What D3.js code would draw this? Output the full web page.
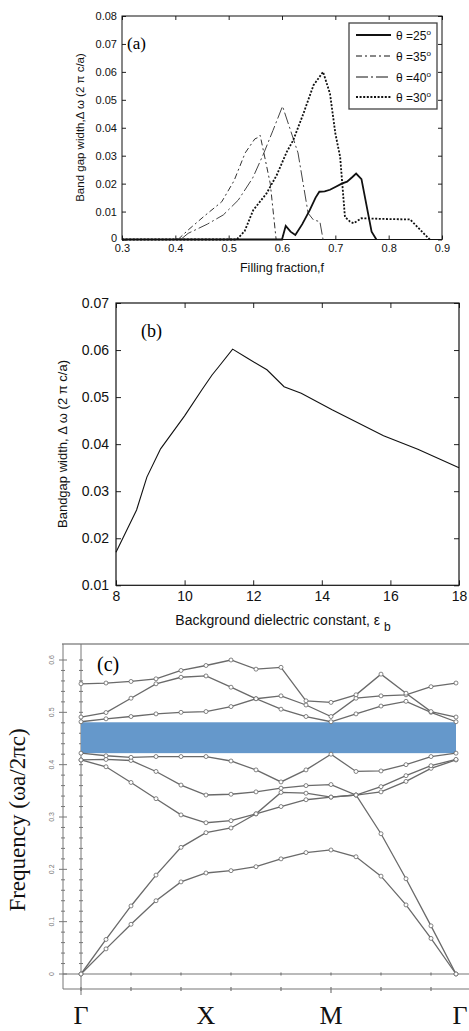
<!DOCTYPE html>
<html>
<head>
<meta charset="utf-8">
<script src="https://cdn.jsdelivr.net/npm/d3@7.9.0/dist/d3.min.js"></script>
<style>
  body { margin: 0; background: #fff; }
  svg { display: block; }
</style>
</head>
<body>
<script>
// ---- panel (a): band gap width vs filling fraction ----
const fTicks = [0.3, 0.4, 0.5, 0.6, 0.7, 0.8, 0.9];
const wTicksA = [0, 0.01, 0.02, 0.03, 0.04, 0.05, 0.06, 0.07, 0.08];
const theta25 = [[0.30,0],[0.600,0],[0.607,0.0049],[0.616,0.0028],[0.625,0.0016],[0.638,0.0055],[0.652,0.0105],[0.663,0.015],[0.670,0.0171],[0.680,0.0172],[0.690,0.0178],[0.700,0.0188],[0.712,0.0200],[0.722,0.0207],[0.731,0.0222],[0.739,0.0236],[0.749,0.0216],[0.768,0.0028],[0.777,0]];
const theta35 = [[0.30,0],[0.405,0],[0.424,0.0034],[0.455,0.0085],[0.487,0.0135],[0.510,0.021],[0.531,0.031],[0.549,0.036],[0.555,0.0365],[0.559,0.0373],[0.566,0.031],[0.578,0.020],[0.589,0]];
const theta40 = [[0.30,0],[0.410,0],[0.424,0.0022],[0.460,0.0055],[0.490,0.0088],[0.518,0.0141],[0.545,0.022],[0.565,0.0305],[0.583,0.039],[0.601,0.0477],[0.630,0.031],[0.649,0.0094],[0.659,0.007],[0.671,0.0064],[0.677,0]];
const theta30 = [[0.30,0],[0.515,0],[0.530,0.003],[0.546,0.0105],[0.571,0.0165],[0.590,0.023],[0.609,0.0314],[0.621,0.0355],[0.640,0.045],[0.659,0.0552],[0.677,0.060],[0.690,0.0522],[0.700,0.038],[0.709,0.0296],[0.718,0.0081],[0.7275,0.0064],[0.734,0.0058],[0.749,0.0076],[0.800,0.0073],[0.840,0.0072],[0.877,0]];
const legendLabels = ["25", "35", "40", "30"];

// ---- panel (b): band gap width vs background dielectric constant ----
const epsTicks = [8, 10, 12, 14, 16, 18];
const wTicksB = [0.01, 0.02, 0.03, 0.04, 0.05, 0.06, 0.07];
const epsB = [8, 8.6, 8.9, 9.3, 10, 10.5, 10.8, 11, 11.4, 11.8, 12.4, 12.9, 13.4, 14.3, 15.8, 16.8, 18];
const gapB = [0.017, 0.026, 0.033, 0.039, 0.046, 0.0515, 0.0547, 0.0565, 0.0602, 0.0584, 0.0558, 0.0522, 0.0508, 0.0473, 0.0418, 0.0389, 0.035];

// ---- panel (c): band structure along Γ-X-M-Γ ----
const kLabels = ["Γ", "X", "M", "Γ"];
const kLabelIndex = [0, 5, 10, 15];
const freqTicks = [0, 0.1, 0.2, 0.3, 0.4, 0.5, 0.6];
const gapLow = 0.422, gapHigh = 0.481;
const band1 = [0, 0.048, 0.095, 0.14, 0.176, 0.193, 0.1975, 0.205, 0.22, 0.232, 0.237, 0.224, 0.187, 0.132, 0.068, 0];
const band2 = [0, 0.066, 0.13, 0.189, 0.242, 0.27, 0.279, 0.306, 0.32, 0.333, 0.338, 0.342, 0.268, 0.182, 0.092, 0];
const band3 = [0.409, 0.396, 0.366, 0.335, 0.304, 0.289, 0.293, 0.306, 0.347, 0.3455, 0.338, 0.342, 0.348, 0.368, 0.393, 0.409];
const band4 = [0.409, 0.41, 0.408, 0.387, 0.361, 0.342, 0.3435, 0.348, 0.355, 0.36, 0.362, 0.342, 0.358, 0.379, 0.398, 0.41];
const band5 = [0.422, 0.417, 0.414, 0.4155, 0.4155, 0.4155, 0.407, 0.39, 0.367, 0.39, 0.42, 0.387, 0.388, 0.40, 0.4155, 0.422];
const band6 = [0.482, 0.4876, 0.492, 0.497, 0.500, 0.5015, 0.511, 0.526, 0.506, 0.492, 0.482, 0.497, 0.512, 0.521, 0.500, 0.482];
const band7 = [0.491, 0.4996, 0.527, 0.5545, 0.567, 0.5695, 0.548, 0.526, 0.5315, 0.514, 0.492, 0.527, 0.5315, 0.5335, 0.549, 0.556];
const band8 = [0.5545, 0.556, 0.559, 0.564, 0.58, 0.5895, 0.6, 0.5825, 0.586, 0.522, 0.519, 0.5335, 0.573, 0.5365, 0.5015, 0.491];
const bands = [band1, band2, band3, band4, band5, band6, band7, band8];

const SANS = "Liberation Sans, Arial, sans-serif";
const SERIF = "Liberation Serif, Times New Roman, serif";

const svg = d3.select("body").append("svg")
    .attr("width", 469)
    .attr("height", 1031);

// =================== panel (a) ===================
const xA = d3.scaleLinear().domain([0.3, 0.9]).range([122, 442]);
const yA = d3.scaleLinear().domain([0, 0.08]).range([239.5, 16]);
const gA = svg.append("g");

function styleAxis(g, size, family) {
    g.attr("font-size", size).attr("font-family", family);
    g.selectAll("text").attr("fill", "#111");
    g.selectAll("line").attr("stroke", "#222");
    g.select(".domain").remove();
}

gA.append("g").attr("transform", "translate(0,239.5)")
    .call(d3.axisBottom(xA).tickValues(fTicks).tickFormat(d3.format(".1f")).tickSizeInner(-4).tickSizeOuter(0).tickPadding(5))
    .call(g => styleAxis(g, 11, SANS));
gA.append("g").attr("transform", "translate(0,16)")
    .call(d3.axisTop(xA).tickValues(fTicks).tickFormat("").tickSizeInner(-4).tickSizeOuter(0))
    .call(g => styleAxis(g, 11, SANS));
gA.append("g").attr("transform", "translate(122,0)")
    .call(d3.axisLeft(yA).tickValues(wTicksA).tickFormat(d => d === 0 ? "0" : d3.format(".2f")(d)).tickSizeInner(-4).tickSizeOuter(0).tickPadding(5))
    .call(g => styleAxis(g, 11, SANS))
    .call(g => g.selectAll(".tick text").filter(d => d === 0).attr("dy", "0.2em"));
gA.append("g").attr("transform", "translate(442,0)")
    .call(d3.axisRight(yA).tickValues(wTicksA).tickFormat("").tickSizeInner(-4).tickSizeOuter(0))
    .call(g => styleAxis(g, 11, SANS));

gA.append("rect")
    .attr("x", xA(0.3)).attr("y", yA(0.08))
    .attr("width", xA(0.9) - xA(0.3)).attr("height", yA(0) - yA(0.08))
    .attr("fill", "none").attr("stroke", "#111").attr("stroke-width", 1);

const lineA = d3.line().x(d => xA(d[0])).y(d => yA(d[1]));
const seriesA = [
    { data: theta40, dash: "12,3,2,3", width: 1, color: "#444" },
    { data: theta35, dash: "6,3,2,3", width: 1, color: "#333" },
    { data: theta30, dash: "2,1.6", width: 1.8, color: "#111" },
    { data: theta25, dash: null, width: 1.8, color: "#111" }
];
gA.selectAll("path.series")
    .data(seriesA)
    .enter()
    .append("path")
    .attr("class", "series")
    .attr("d", d => lineA(d.data))
    .attr("fill", "none")
    .attr("stroke", d => d.color)
    .attr("stroke-width", d => d.width)
    .attr("stroke-dasharray", d => d.dash);

gA.append("text")
    .attr("x", 127).attr("y", 49)
    .attr("font-family", SERIF).attr("font-size", 17)
    .text("(a)");

// legend
const legendStyles = [
    { dash: null, width: 2 },
    { dash: "6,3,2,3", width: 1 },
    { dash: "12,3,2,3", width: 1 },
    { dash: "2,1.6", width: 1.8 }
];
const legendY = [35, 56, 77, 97];
const gL = gA.append("g");
gL.append("rect")
    .attr("x", 349).attr("y", 23).attr("width", 88).attr("height", 86)
    .attr("fill", "#fff").attr("stroke", "#444").attr("stroke-width", 1.3);
const items = gL.selectAll("g.item")
    .data(legendLabels)
    .enter()
    .append("g")
    .attr("class", "item")
    .attr("transform", (d, i) => `translate(0,${legendY[i]})`);
items.append("line")
    .attr("x1", 356).attr("x2", 391)
    .attr("stroke", "#111")
    .attr("stroke-width", (d, i) => legendStyles[i].width)
    .attr("stroke-dasharray", (d, i) => legendStyles[i].dash);
const lt = items.append("text")
    .attr("x", 396).attr("y", 4.5)
    .attr("font-family", SANS).attr("font-size", 12).attr("fill", "#111");
lt.append("tspan").text(d => "θ =" + d);
lt.append("tspan").attr("dy", -5).attr("font-size", 8).text("o");

// axis titles
gA.append("text")
    .attr("transform", "translate(84,127.5) rotate(-90)")
    .attr("text-anchor", "middle")
    .attr("font-family", SANS).attr("font-size", 11.5).attr("fill", "#111")
    .text("Band gap width,Δ ω (2 π c/a)");
gA.append("text")
    .attr("x", 282).attr("y", 272)
    .attr("text-anchor", "middle")
    .attr("font-family", SANS).attr("font-size", 12.5).attr("fill", "#111")
    .text("Filling fraction,f");

// =================== panel (b) ===================
const xB = d3.scaleLinear().domain([8, 18]).range([116, 459]);
const yB = d3.scaleLinear().domain([0.01, 0.07]).range([585.3, 303]);
const gB = svg.append("g");

gB.append("g").attr("transform", `translate(0,${yB(0.01)})`)
    .call(d3.axisBottom(xB).tickValues(epsTicks).tickFormat(d3.format("d")).tickSizeInner(-5).tickSizeOuter(0).tickPadding(6))
    .call(g => styleAxis(g, 14, SANS));
gB.append("g").attr("transform", `translate(0,${yB(0.07)})`)
    .call(d3.axisTop(xB).tickValues(epsTicks).tickFormat("").tickSizeInner(-5).tickSizeOuter(0))
    .call(g => styleAxis(g, 14, SANS));
gB.append("g").attr("transform", `translate(${xB(8)},0)`)
    .call(d3.axisLeft(yB).tickValues(wTicksB).tickFormat(d3.format(".2f")).tickSizeInner(-5).tickSizeOuter(0).tickPadding(7))
    .call(g => styleAxis(g, 14, SANS));
gB.append("g").attr("transform", `translate(${xB(18)},0)`)
    .call(d3.axisRight(yB).tickValues(wTicksB).tickFormat("").tickSizeInner(-5).tickSizeOuter(0))
    .call(g => styleAxis(g, 14, SANS));

gB.append("rect")
    .attr("x", xB(8)).attr("y", yB(0.07))
    .attr("width", xB(18) - xB(8)).attr("height", yB(0.01) - yB(0.07))
    .attr("fill", "none").attr("stroke", "#111").attr("stroke-width", 1.2);

gB.append("path")
    .datum(d3.zip(epsB, gapB))
    .attr("d", d3.line().x(d => xB(d[0])).y(d => yB(d[1])))
    .attr("fill", "none").attr("stroke", "#111").attr("stroke-width", 1.1);

gB.append("text")
    .attr("x", 141).attr("y", 337)
    .attr("font-family", SERIF).attr("font-size", 18)
    .text("(b)");

gB.append("text")
    .attr("transform", "translate(67,444) rotate(-90)")
    .attr("text-anchor", "middle")
    .attr("font-family", SANS).attr("font-size", 13).attr("fill", "#111")
    .text("Bandgap width, Δ ω (2 π c/a)");
const xbLabel = gB.append("text")
    .attr("x", 283).attr("y", 625)
    .attr("text-anchor", "middle")
    .attr("font-family", SANS).attr("font-size", 14).attr("fill", "#111");
xbLabel.append("tspan").text("Background dielectric constant, ε ");
xbLabel.append("tspan").attr("dy", 6).attr("font-size", 12).text("b");

// =================== panel (c) ===================
const xC = d3.scaleLinear().domain([0, 15]).range([81, 456]);
const yC = d3.scaleLinear().domain([0, 0.6]).range([974, 660]);
const gC = svg.append("g");
const axisGray = "#777";

// frame lines
gC.append("line").attr("x1", 62).attr("x2", 469).attr("y1", 644).attr("y2", 644)
    .attr("stroke", "#aaa").attr("stroke-width", 2);
gC.append("line").attr("x1", 63).attr("x2", 63).attr("y1", 644).attr("y2", 989)
    .attr("stroke", axisGray).attr("stroke-width", 1);
gC.append("line").attr("x1", xC(0)).attr("x2", xC(0)).attr("y1", 644).attr("y2", 995)
    .attr("stroke", axisGray).attr("stroke-width", 1);
gC.append("line").attr("x1", 63).attr("x2", 469).attr("y1", yC(0)).attr("y2", yC(0))
    .attr("stroke", axisGray).attr("stroke-width", 1.2);
gC.append("line").attr("x1", 63).attr("x2", 469).attr("y1", 989).attr("y2", 989)
    .attr("stroke", axisGray).attr("stroke-width", 1.2);

// minor/major ticks on the two vertical lines
const minorY = d3.range(0, 31).map(i => i * 0.02).filter(v => yC(v) > 646);
gC.selectAll("line.ty1").data(minorY).enter().append("line")
    .attr("x1", d => Math.round(d * 50) % 5 === 0 ? 59 : 61)
    .attr("x2", d => Math.round(d * 50) % 5 === 0 ? 67 : 65)
    .attr("y1", d => yC(d)).attr("y2", d => yC(d))
    .attr("stroke", axisGray).attr("stroke-width", 1);
gC.selectAll("line.ty2").data(minorY).enter().append("line")
    .attr("x1", xC(0) - 2).attr("x2", xC(0) + 2)
    .attr("y1", d => yC(d)).attr("y2", d => yC(d))
    .attr("stroke", axisGray).attr("stroke-width", 1);
const minorX = d3.range(0, 15, 2);
gC.selectAll("line.tx1").data(minorX).enter().append("line")
    .attr("x1", d => xC(d)).attr("x2", d => xC(d))
    .attr("y1", yC(0) - 1.5).attr("y2", yC(0) + 1.5)
    .attr("stroke", axisGray).attr("stroke-width", 1.2);
gC.selectAll("line.tx2").data(minorX).enter().append("line")
    .attr("x1", d => xC(d)).attr("x2", d => xC(d))
    .attr("y1", 987).attr("y2", d => d === 10 ? 993 : 991)
    .attr("stroke", axisGray).attr("stroke-width", 1.2);

// tick labels, rotated
gC.selectAll("text.fy").data(freqTicks).enter().append("text")
    .attr("transform", d => `translate(54,${yC(d)}) rotate(-90)`)
    .attr("text-anchor", "middle")
    .attr("font-family", SANS).attr("font-size", 7).attr("fill", "#777")
    .text(d => d === 0 ? "0" : d3.format(".1f")(d));

// photonic band gap
gC.append("rect")
    .attr("x", xC(0)).attr("y", yC(gapHigh))
    .attr("width", xC(15) - xC(0)).attr("height", yC(gapLow) - yC(gapHigh))
    .attr("fill", "#6598cb");

// bands
const lineC = d3.line().x((d, i) => xC(i)).y(d => yC(d));
gC.selectAll("path.band").data(bands).enter().append("path")
    .attr("class", "band")
    .attr("d", lineC)
    .attr("fill", "none").attr("stroke", "#6a6a6a").attr("stroke-width", 1.3);
bands.forEach(b => {
    gC.selectAll(null).data(b).enter().append("circle")
        .attr("cx", (d, i) => xC(i)).attr("cy", d => yC(d))
        .attr("r", 2)
        .attr("fill", "#fff").attr("stroke", "#666").attr("stroke-width", 0.8);
});

gC.append("text")
    .attr("x", 97).attr("y", 671)
    .attr("font-family", SERIF).attr("font-size", 20)
    .text("(c)");

gC.append("text")
    .attr("transform", "translate(25,820) rotate(-90)")
    .attr("text-anchor", "middle")
    .attr("font-family", SERIF).attr("font-size", 23).attr("fill", "#111")
    .text("Frequency (ωa/2πc)");

gC.selectAll("text.k").data(kLabels).enter().append("text")
    .attr("x", (d, i) => xC(kLabelIndex[i]) + (i === 3 ? 4 : 0))
    .attr("y", 1024)
    .attr("text-anchor", "middle")
    .attr("font-family", SERIF).attr("font-size", 26).attr("fill", "#111")
    .text(d => d);
</script>
</body>
</html>
